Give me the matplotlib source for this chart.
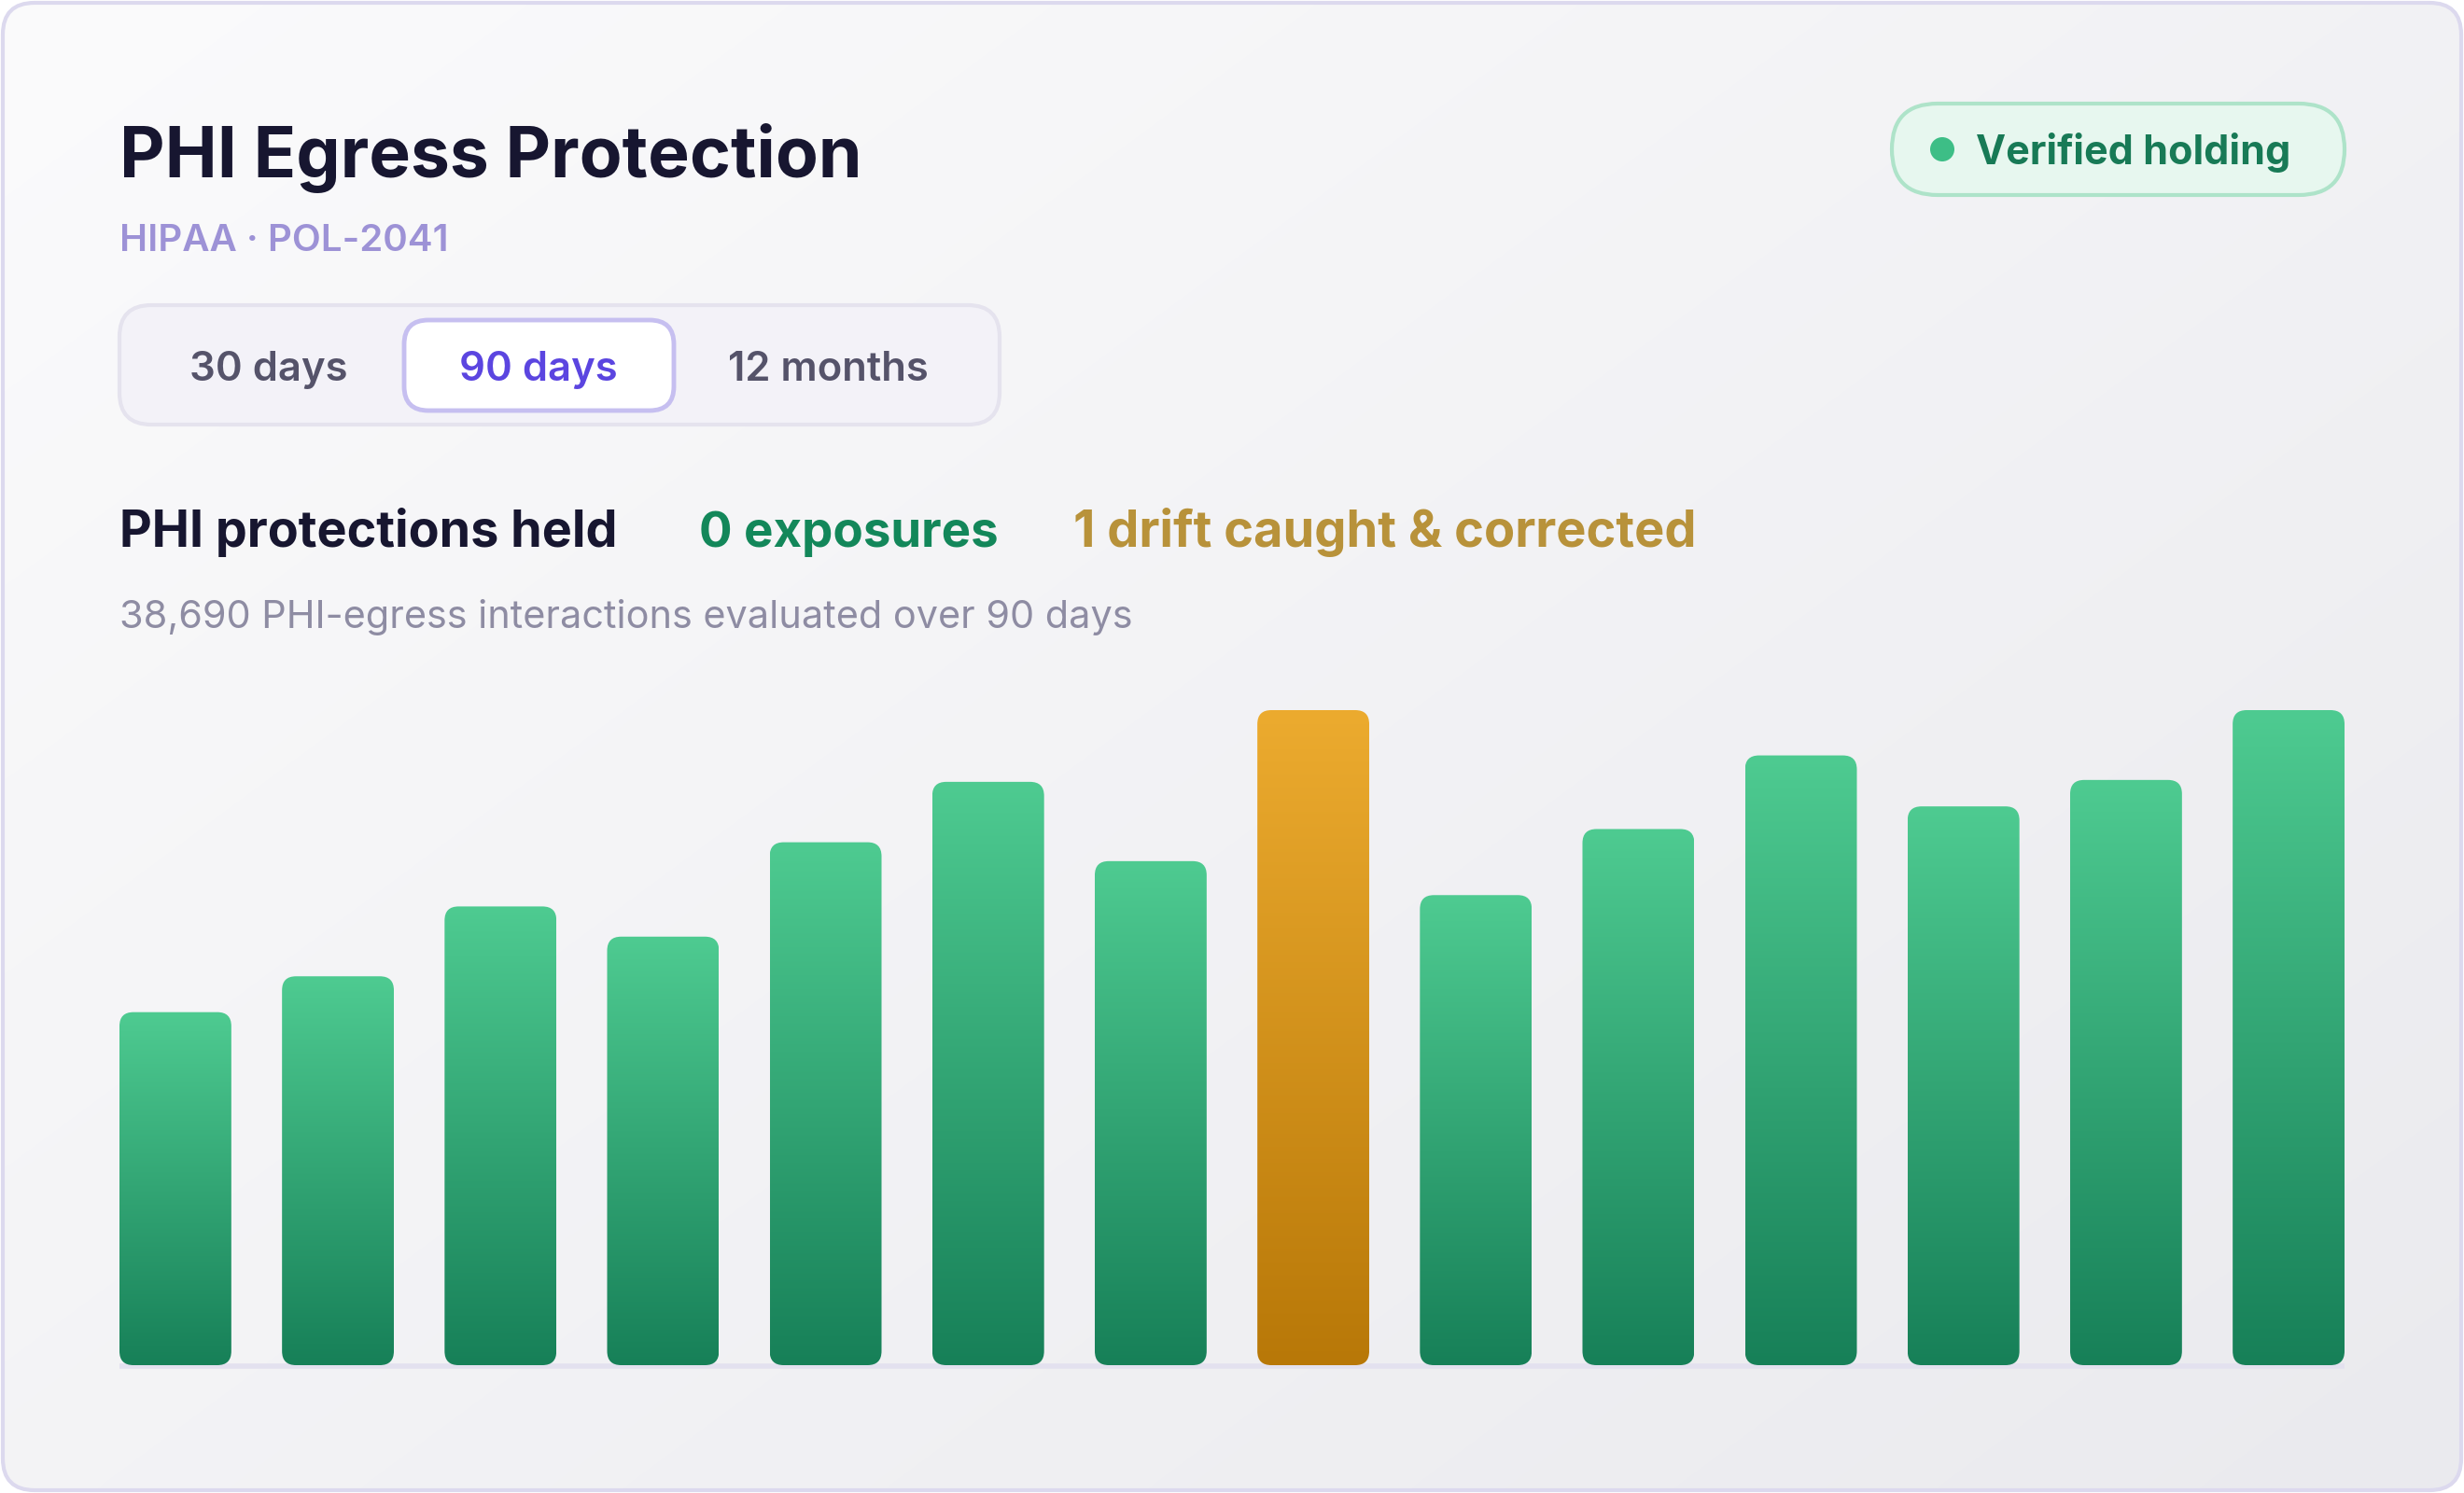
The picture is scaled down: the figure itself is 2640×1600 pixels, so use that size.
import numpy as np
import matplotlib
matplotlib.use("Agg")
import matplotlib.pyplot as plt
from matplotlib.patches import FancyBboxPatch, Circle
from matplotlib.colors import LinearSegmentedColormap, to_rgb

# ---------------- data ----------------
periods = ["P1", "P2", "P3", "P4", "P5", "P6", "P7", "P8", "P9", "P10", "P11", "P12", "P13", "P14"]
interactions = [1870, 2060, 2430, 2270, 2770, 3090, 2670, 3470, 2490, 2840, 3230, 2960, 3100, 3470]
drift_flags = [0, 0, 0, 0, 0, 0, 0, 1, 0, 0, 0, 0, 0, 0]

title = "PHI Egress Protection"
subtitle = "HIPAA · POL-2041"
badge_label = "Verified holding"
tab_labels = ["30 days", "90 days", "12 months"]
selected_tab = 1
stat_held = "PHI protections held"
stat_exposures = "0 exposures"
stat_drift = "1 drift caught & corrected"
caption = "38,690 PHI-egress interactions evaluated over 90 days"

W, H = 2640, 1600
FONT = "Inter"

fig = plt.figure(figsize=(W / 100, H / 100), dpi=100)
fig.patch.set_facecolor("white")

# overlay axes in pixel coordinates (y down)
ov = fig.add_axes([0, 0, 1, 1])
ov.set_xlim(0, W)
ov.set_ylim(H, 0)
ov.axis("off")

# ---------------- card background ----------------
card = FancyBboxPatch((3, 3), W - 6, H - 6, boxstyle="round,pad=0,rounding_size=34",
                      facecolor="none", edgecolor="#dcd9ee", linewidth=3, zorder=3)
ov.add_patch(card)
yy, xx = np.mgrid[0:1:200j, 0:1:330j]
t = np.clip(0.55 * xx + 0.45 * yy, 0, 1)
c0 = np.array(to_rgb("#fbfbfc"))
c1 = np.array(to_rgb("#eaeaee"))
bg = c0[None, None, :] * (1 - t[..., None]) + c1[None, None, :] * t[..., None]
im = ov.imshow(bg, extent=(0, W, H, 0), aspect="auto", zorder=0, interpolation="bicubic")
clip_card = FancyBboxPatch((3, 3), W - 6, H - 6, boxstyle="round,pad=0,rounding_size=34",
                           facecolor="none", edgecolor="none", transform=ov.transData)
ov.add_patch(clip_card)
im.set_clip_path(clip_card)

# ---------------- header ----------------
ov.text(128, 190, title, fontsize=54, fontweight="bold", color="#171630",
        family=FONT, va="baseline", ha="left", zorder=5)
ov.text(128, 269, subtitle, fontsize=29, fontweight="semibold", color="#9d92d6",
        family=FONT, va="baseline", ha="left", zorder=5)

# badge
badge = FancyBboxPatch((2027, 111), 485, 98, boxstyle="round,pad=0,rounding_size=49",
                       facecolor="#e7f7ef", edgecolor="#aee3c9", linewidth=3, zorder=4)
ov.add_patch(badge)
ov.add_patch(Circle((2081, 160), 13, facecolor="#3dbe86", edgecolor="none", zorder=5))
ov.text(2117, 176, badge_label, fontsize=31, fontweight="bold", color="#187a56",
        family=FONT, va="baseline", ha="left", zorder=5)

# tabs
tabs_box = FancyBboxPatch((128, 327), 943, 128, boxstyle="round,pad=0,rounding_size=34",
                          facecolor="#f3f2f8", edgecolor="#e5e3ee", linewidth=3, zorder=4)
ov.add_patch(tabs_box)
sel = FancyBboxPatch((433, 343), 289, 97, boxstyle="round,pad=0,rounding_size=26",
                     facecolor="white", edgecolor="#c6bff0", linewidth=3.5, zorder=5)
ov.add_patch(sel)
tab_centers = [288, 577, 887]
for i, (lab, cx) in enumerate(zip(tab_labels, tab_centers)):
    ov.text(cx, 408, lab, fontsize=31.4, fontweight="semibold",
            color="#5b45e0" if i == selected_tab else "#55536a",
            family=FONT, va="baseline", ha="center", zorder=6)

# stats row
ov.text(128, 586, stat_held, fontsize=38.8, fontweight="bold", color="#171630",
        family=FONT, va="baseline", ha="left", zorder=5)
ov.text(749, 586, stat_exposures, fontsize=38, fontweight="bold", color="#13875a",
        family=FONT, va="baseline", ha="left", zorder=5)
ov.text(1150, 586, stat_drift, fontsize=39, fontweight="bold", color="#b8923a",
        family=FONT, va="baseline", ha="left", zorder=5)
ov.text(128, 673, caption, fontsize=29.8, fontweight="normal", color="#8e8ca3",
        family=FONT, va="baseline", ha="left", zorder=5)

# ---------------- bars ----------------
pitch = 174.4
bw_px = 120
n = len(interactions)
left_px, right_px = 128, 2512
base_px, top_px = 1463, 761
ax = fig.add_axes([left_px / W, (H - base_px) / H, (right_px - left_px) / W, (base_px - top_px) / H])
ax.patch.set_alpha(0)
ax.axis("off")
x = np.arange(n)
bw = bw_px / pitch
ax.set_xlim(-bw / 2, n - 1 + bw / 2)
ax.set_ylim(0, max(interactions))
bars = ax.bar(x, interactions, width=bw, color="none", edgecolor="none")

# baseline
ov.plot([left_px, right_px], [base_px + 1, base_px + 1], color="#e3e1ef", lw=4,
        solid_capstyle="butt", zorder=2)

green = LinearSegmentedColormap.from_list("g", ["#4ecb91", "#178058"])
amber = LinearSegmentedColormap.from_list("a", ["#ecab2f", "#b87808"])
grad = np.linspace(0, 1, 256)[:, None]

fig.canvas.draw()
to_ov = ax.transData + ov.transData.inverted()
for rect, flag in zip(bars.patches, drift_flags):
    x0, y0 = rect.get_x(), rect.get_y()
    x1, y1 = x0 + rect.get_width(), y0 + rect.get_height()
    (px0, py0), (px1, py1) = to_ov.transform([(x0, y0), (x1, y1)])
    L, R = min(px0, px1), max(px0, px1)
    T, B = min(py0, py1), max(py0, py1)
    patch = FancyBboxPatch((L, T), R - L, B - T, boxstyle="round,pad=0,rounding_size=15",
                           facecolor="none", edgecolor="none", zorder=3)
    ov.add_patch(patch)
    gi = ov.imshow(grad, extent=(L, R, B, T), aspect="auto",
                   cmap=amber if flag else green, zorder=3, interpolation="bilinear")
    gi.set_clip_path(patch)

ov.set_xlim(0, W)
ov.set_ylim(H, 0)
fig.savefig("out.png", dpi=100, facecolor="white")
